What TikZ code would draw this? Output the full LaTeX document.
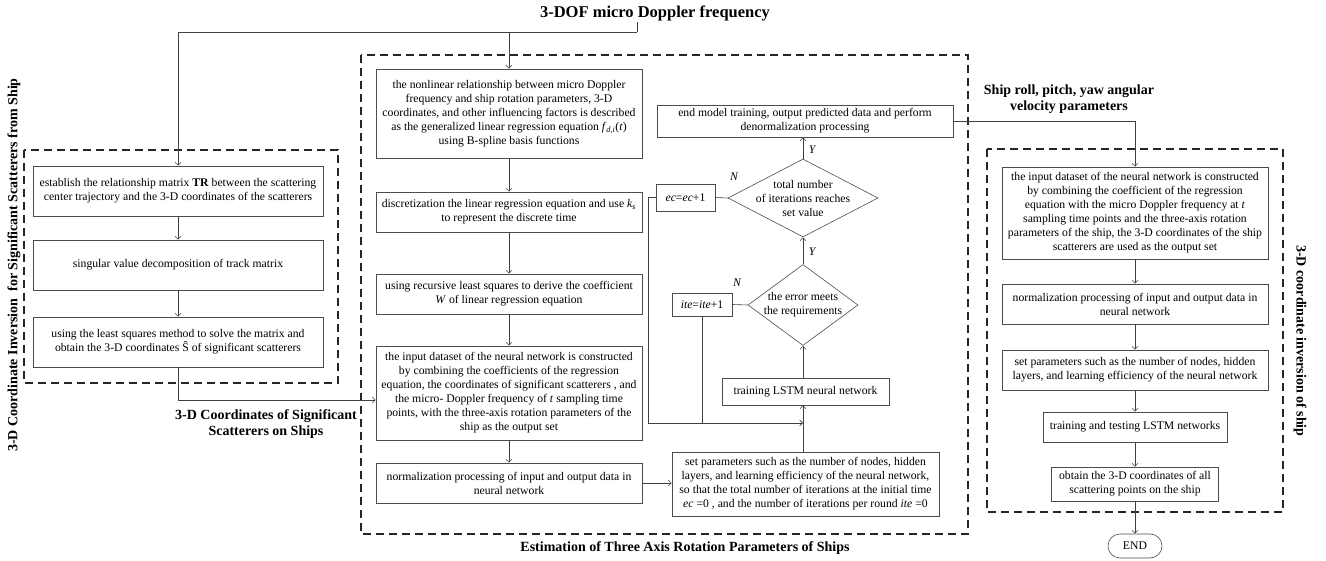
\documentclass[tikz,border=0pt]{standalone}
\usepackage{fontspec}
\setmainfont{Liberation Serif}
\usetikzlibrary{arrows.meta,shapes.geometric,calc}
\newcommand{\bodyf}{\fontsize{11.7}{14}\selectfont}
\newcommand{\lblf}{\fontsize{14}{16.5}\selectfont\bfseries}
\newcommand{\ttlf}{\fontsize{16.5}{19}\selectfont\bfseries}
\begin{document}
\begin{tikzpicture}[x=1pt,y=-1pt,
 box/.style={draw=black!70, line width=0.6pt, align=center, inner sep=1pt, font=\bodyf},
 bx/.style 2 args={box, minimum width=#1, minimum height=#2},
 dia/.style={diamond, draw=black!70, line width=0.6pt, inner sep=0pt},
 arr/.style={draw=black!75, line width=0.6pt, -{Straight Barb[length=3pt,width=6pt]}},
 ln/.style={draw=black!75, line width=0.6pt},
 dbox/.style={draw=black!85, line width=1.1pt, dash pattern=on 8pt off 5pt},
 lbl/.style={font=\lblf, align=center, inner sep=1pt},
 ttl/.style={font=\ttlf, inner sep=1pt},
 yn/.style={font=\bodyf\itshape, inner sep=0pt},
 dtxt/.style={font=\bodyf, align=center, inner sep=0pt}]
\useasboundingbox (0,0) rectangle (1326,561);

% dashed groups
\draw[dbox] (24,150) rectangle (338,383);
\draw[dbox] (361,55) rectangle (968,534);
\draw[dbox] (987,149) rectangle (1283,512);

% titles and labels
\node[ttl] (title) at (655,13) {3-DOF micro Doppler frequency};
\node[lbl, rotate=90] (lt) at (14,265) {3-D Coordinate Inversion\ \ for Significant Scatterers from Ship};
\node[lbl, rotate=-90] (rt) at (1300,341) {3-D coordinate inversion of ship};
\node[lbl] (cap) at (685,548) {Estimation of Three Axis Rotation Parameters of Ships};
\node[lbl] (lcs) at (266,424) {3-D Coordinates of Significant\\Scatterers on Ships};
\node[lbl] (lsr) at (1069,99) {Ship roll, pitch, yaw angular\\velocity parameters};

% left column
\node[bx={290}{50}] (L1) at (178,191) {establish the relationship matrix \textbf{TR} between the scattering\\center trajectory and the 3-D coordinates of the scatterers};
\node[bx={290}{50}] (L2) at (178,265) {singular value decomposition of track matrix};
\node[bx={290}{50}] (L3) at (178,342) {using the least squares method to solve the matrix and\\obtain the 3-D coordinates Ŝ of significant scatterers};

% middle column
\node[bx={266}{89}] (M1) at (509,113.5) {the nonlinear relationship between micro Doppler\\frequency and ship rotation parameters, 3-D\\coordinates, and other influencing factors is described\\as the generalized linear regression equation \emph{f}\textsubscript{\emph{d,i}}(\emph{t})\\using B-spline basis functions};
\node[bx={266}{40}] (M2) at (509,212) {discretization the linear regression equation and use \emph{k}\textsubscript{s}\\to represent the discrete time};
\node[bx={266}{40}] (M3) at (509,294) {using recursive least squares to derive the coefficient\\\emph{W} of linear regression equation};
\node[bx={266}{94}] (M4) at (509,393) {the input dataset of the neural network is constructed\\by combining the coefficients of the regression\\equation, the coordinates of significant scatterers , and\\the micro- Doppler frequency of \emph{t} sampling time\\points, with the three-axis rotation parameters of the\\ship as the output set};
\node[bx={266}{40}] (M5) at (509,483) {normalization processing of input and output data in\\neural network};

% training loop
\node[bx={267}{64}] (P) at (805.5,484) {set parameters such as the number of nodes, hidden\\layers, and learning efficiency of the neural network,\\so that the total number of iterations at the initial time\\\emph{ec} =0 , and the number of iterations per round \emph{ite} =0};
\node[bx={167}{27}] (LSTM) at (805.5,391.5) {training LSTM neural network};
\node[dia, minimum width=110, minimum height=81] (d2) at (803,305) {};
\node[dtxt] (d2t) at (d2) {the error meets\\the requirements};
\node[dia, minimum width=150, minimum height=78] (d1) at (803,198) {};
\node[dtxt] (d1t) at (d1) {total number\\of iterations reaches\\set value};
\node[bx={59}{27}] (ec) at (685.5,197.5) {\emph{ec}=\emph{ec}+1};
\node[bx={60}{23}] (ite) at (702,304.5) {\emph{ite}=\emph{ite}+1};
\node[bx={296}{32}] (E) at (805,121) {end model training, output predicted data and perform\\denormalization processing};

\node[yn] (y1) at (812,150) {Y};
\node[yn] (y2) at (812,252) {Y};
\node[yn] (n1) at (734,177) {N};
\node[yn] (n2) at (737,283) {N};

% right column
\node[bx={266}{92}] (R1) at (1135,213) {the input dataset of the neural network is constructed\\by combining the coefficient of the regression\\equation with the micro Doppler frequency at \emph{t}\\sampling time points and the three-axis rotation\\parameters of the ship, the 3-D coordinates of the ship\\scatterers are used as the output set};
\node[bx={266}{40}] (R2) at (1135,304) {normalization processing of input and output data in\\neural network};
\node[bx={266}{40}] (R3) at (1135,370) {set parameters such as the number of nodes, hidden\\layers, and learning efficiency of the neural network};
\node[bx={184}{30}] (R4) at (1135,427) {training and testing LSTM networks};
\node[bx={167}{34}] (R5) at (1135,484) {obtain the 3-D coordinates of all\\scattering points on the ship};
\node[draw=black!70, line width=0.6pt, rounded corners=12pt, minimum width=54, minimum height=24, font=\bodyf, inner sep=1pt] (end) at (1135,546) {END};

% connectors
\coordinate (tj) at (637,32);
\draw[ln] (tj |- title.south) -- (tj);
\draw[arr] (tj) -| (L1.north);
\draw[arr] (M1.north |- tj) -- (M1.north);

\draw[arr] (L1.south) -- (L2.north);
\draw[arr] (L2.south) -- (L3.north);
\draw[arr] (L3.south) |- ($(M4.west)+(0,7)$);

\draw[arr] (M1.south) -- (M2.north);
\draw[arr] (M2.south) -- (M3.north);
\draw[arr] (M3.south) -- (M4.north);
\draw[arr] (M4.south) -- (M5.north);
\draw[arr] (M5.east) -- (M5.east -| P.west);

\coordinate (jn) at (803,423);
\draw[arr] (P.north -| jn) -- (LSTM.south -| jn);
\draw[arr] (LSTM.north -| jn) -- (d2.south);
\draw[arr] (d2.north) -- (d1.south);
\draw[arr] (d1.north) -- (E.south -| d1.north);
\draw[ln] (d1.west) -- (ec.east);
\draw[ln] (d2.west) -- (ite.east);
\draw[arr] (ec.west) -- ++(-7,0) |- (jn);
\draw[ln] (ite.south) -- (ite.south |- jn);

\draw[arr] (E.east) -| (R1.north);
\draw[arr] (R1.south) -- (R2.north);
\draw[arr] (R2.south) -- (R3.north);
\draw[arr] (R3.south) -- (R4.north);
\draw[arr] (R4.south) -- (R5.north);
\draw[arr] (R5.south) -- (end.north);
\end{tikzpicture}
\end{document}
